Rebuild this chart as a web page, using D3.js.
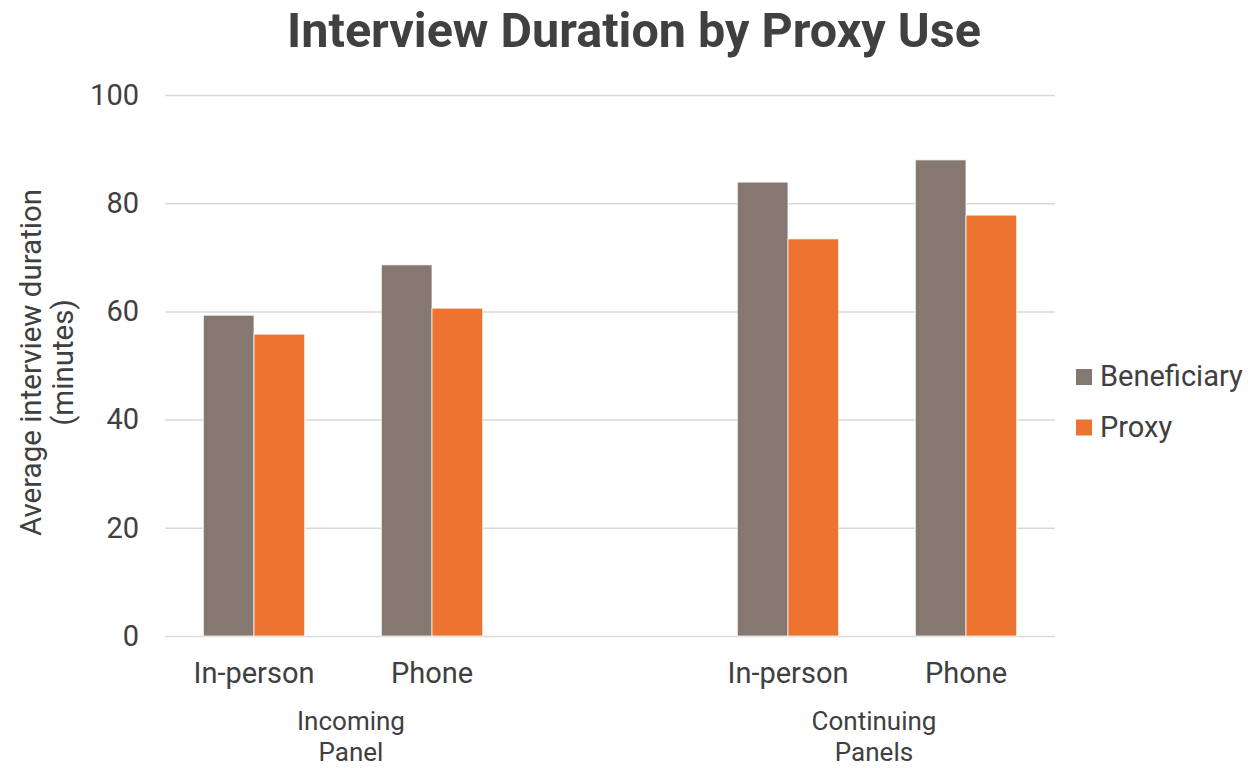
<!DOCTYPE html>
<html>
<head>
<meta charset="utf-8">
<script src="https://cdn.jsdelivr.net/npm/d3@7"></script>
<style>
  html, body { margin: 0; padding: 0; background: #fff; }
  svg { display: block; font-family: Roboto, "Noto Sans", sans-serif; }
</style>
</head>
<body>
<svg id="chart" width="1248" height="768"></svg>
<script>
// Category slots along the x axis (the blank slot separates the two panel groups)
const slots = ["inc-inperson", "inc-phone", "gap", "cont-inperson", "cont-phone"];
const slotLabels = ["In-person", "Phone", "", "In-person", "Phone"];
const groups = [
  { name: ["Incoming", "Panel"], slots: ["inc-inperson", "inc-phone"] },
  { name: ["Continuing", "Panels"], slots: ["cont-inperson", "cont-phone"] }
];
const seriesNames = ["Beneficiary", "Proxy"];
const beneficiary = [59.3, 68.6, null, 83.9, 88.0];
const proxy = [55.8, 60.6, null, 73.4, 77.8];
const yTicks = [0, 20, 40, 60, 80, 100];

const colors = { Beneficiary: "#857870", Proxy: "#ED7330" };
const textColor = "#404040";

const svg = d3.select("#chart");
const margin = { left: 165, right: 193, top: 95, bottom: 132 };
const W = 1248, H = 768;
const plotW = W - margin.left - margin.right;
const plotH = H - margin.top - margin.bottom;

const g = svg.append("g").attr("transform", `translate(${margin.left},${margin.top})`);

const x = d3.scaleBand().domain(slots).range([0, plotW]).paddingInner(0).paddingOuter(0);
const barW = x.bandwidth() * 0.285;
const xs = d3.scaleBand().domain(seriesNames).range([0, barW * 2]);
const y = d3.scaleLinear().domain([0, 100]).range([plotH, 0]);

// Title
svg.append("text")
  .attr("x", 634).attr("y", 47)
  .attr("text-anchor", "middle")
  .attr("font-size", 48.5).attr("font-weight", 700)
  .attr("fill", textColor)
  .text("Interview Duration by Proxy Use");

// Gridlines and value labels
const yAxis = d3.axisLeft(y).tickValues(yTicks).tickSize(-plotW).tickFormat(d3.format("d")).tickPadding(26);
const ya = g.append("g").call(yAxis);
ya.select(".domain").remove();
ya.selectAll(".tick line").attr("stroke", "#d9d9d9").attr("stroke-width", 1.5);
ya.selectAll(".tick text").attr("font-size", 29).attr("fill", textColor)
  .attr("font-family", "Roboto, sans-serif");

// Bars
const rows = slots.map((s, i) => ({ slot: s, Beneficiary: beneficiary[i], Proxy: proxy[i] }))
  .filter(r => r.Beneficiary != null);

const cat = g.selectAll("g.cat").data(rows).join("g")
  .attr("class", "cat")
  .attr("transform", d => `translate(${x(d.slot) + x.bandwidth() / 2 - barW},0)`);

cat.selectAll("rect").data(d => seriesNames.map(k => ({ key: k, value: d[k] }))).join("rect")
  .attr("x", d => xs(d.key))
  .attr("y", d => y(d.value))
  .attr("width", xs.bandwidth())
  .attr("height", d => y(0) - y(d.value))
  .attr("fill", d => colors[d.key])
  .attr("stroke", "#ffffff").attr("stroke-width", 0.75);

// Category labels
g.selectAll("text.slot").data(slots.filter((s, i) => slotLabels[i])).join("text")
  .attr("class", "slot")
  .attr("x", d => x(d) + x.bandwidth() / 2)
  .attr("y", plotH + 47)
  .attr("text-anchor", "middle")
  .attr("font-size", 29).attr("fill", textColor)
  .text(d => slotLabels[slots.indexOf(d)]);

// Group labels (two lines each)
const groupNudge = [8, -3];
groups.forEach((grp, i) => {
  const a = x(grp.slots[0]) + x.bandwidth() / 2;
  const b = x(grp.slots[1]) + x.bandwidth() / 2;
  const cx = (a + b) / 2 + groupNudge[i];
  const t = g.append("text")
    .attr("x", cx)
    .attr("y", plotH + 94)
    .attr("text-anchor", "middle")
    .attr("font-size", 26).attr("fill", textColor);
  grp.name.forEach((line, j) => {
    t.append("tspan").attr("x", cx).attr("dy", j === 0 ? 0 : 30.5).text(line);
  });
});

// Y axis title
const yt = svg.append("text")
  .attr("transform", `translate(41,${margin.top + plotH / 2 - 3}) rotate(-90)`)
  .attr("text-anchor", "middle")
  .attr("font-size", 29.5).attr("fill", textColor);
yt.append("tspan").attr("x", 0).attr("dy", 0).text("Average interview duration");
yt.append("tspan").attr("x", 0).attr("dy", 32).text("(minutes)");

// Legend
const legend = svg.append("g").attr("transform", "translate(1076,378)");
seriesNames.forEach((k, i) => {
  const row = legend.append("g").attr("transform", `translate(0,${i * 50.5})`);
  row.append("rect").attr("x", 0).attr("y", -9).attr("width", 16).attr("height", 16).attr("fill", colors[k]);
  row.append("text").attr("x", 24).attr("y", 8)
    .attr("font-size", 29).attr("fill", textColor).text(k);
});
</script>
</body>
</html>
